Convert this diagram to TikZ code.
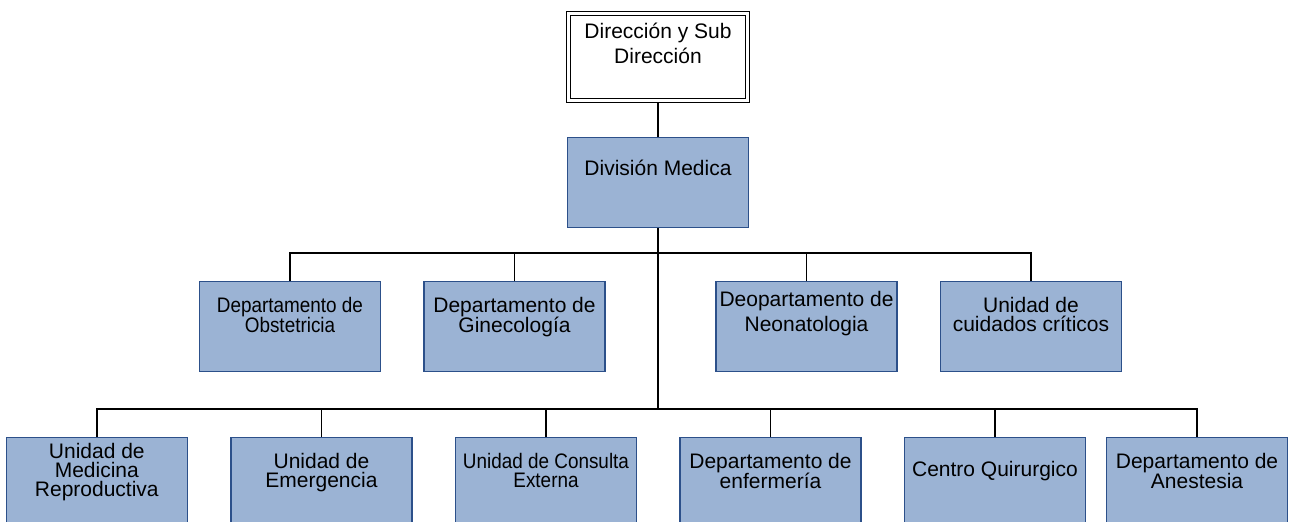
\documentclass[tikz,border=0pt]{standalone}
\usepackage{fontspec}
\setmainfont{Liberation Sans}
\newfontfamily\narrowsans[FakeStretch=0.9]{Liberation Sans}
\definecolor{boxfill}{RGB}{155,179,212}
\definecolor{boxline}{RGB}{44,80,138}
\newcommand\boxtext[1]{\parbox[t]{220pt}{\centering #1}}
\tikzset{
  unit/.style={draw=boxline, line width=1.4pt, fill=boxfill, rectangle,
    minimum width=181pt, minimum height=90pt, inner sep=0pt, anchor=north},
  lbl/.style={anchor=base, inner sep=0pt, font=\fontsize{21}{19}\selectfont},
  narrow/.style={font=\narrowsans\fontsize{21}{19}\selectfont},
  airy/.style={font=\fontsize{21}{25}\selectfont},
  link/.style={draw=black, line width=1.4pt},
  trunk/.style={draw=black, line width=2.4pt},
  bus/.style={draw=black, line width=1.8pt},
}
\begin{document}
\begin{tikzpicture}[x=1pt, y=-1pt]
\useasboundingbox (0,0) rectangle (1293,522);
\clip (0,0) rectangle (1293,522);
\fill[white] (0,0) rectangle (1293,522);

% top management box with double frame
\node[draw=black, line width=1.3pt, rectangle, minimum width=183pt, minimum height=91pt,
      inner sep=0pt, anchor=north] (dir) at (658,11) {};
\draw[black, line width=1.3pt] ([shift={(4.5pt,-4.5pt)}]dir.north west) rectangle ([shift={(-4.5pt,4.5pt)}]dir.south east);
\node[lbl, airy] at (658,38) {\boxtext{Dirección y Sub\\Dirección}};

% medical division
\node[unit] (div) at (658,137) {};
\node[lbl] at (658,175) {\boxtext{División Medica}};

% first level of departments
\node[unit] (obs) at (290,281) {};
\node[unit] (gin) at (514.5,281) {};
\node[unit] (neo) at (806.5,281) {};
\node[unit] (cui) at (1031,281) {};
\node[lbl, narrow] at (290,312) {\boxtext{Departamento de\\Obstetricia}};
\node[lbl] at (514.5,312) {\boxtext{Departamento de\\Ginecología}};
\node[lbl, airy] at (806.5,306.5) {\boxtext{Deopartamento de\\Neonatologia}};
\node[lbl] at (1031,312) {\boxtext{Unidad de\\cuidados críticos}};

% second level of units
\node[unit] (rep) at (96.8,437) {};
\node[unit] (eme) at (321.5,437) {};
\node[unit] (con) at (546,437) {};
\node[unit] (enf) at (770.5,437) {};
\node[unit] (qui) at (995,437) {};
\node[unit] (ane) at (1197,437) {};
\node[lbl] at (96.8,458.5) {\boxtext{Unidad de\\Medicina\\Reproductiva}};
\node[lbl] at (321.5,468) {\boxtext{Unidad de\\Emergencia}};
\node[lbl, narrow] at (546,468) {\boxtext{Unidad de Consulta\\Externa}};
\node[lbl] at (770.5,468) {\boxtext{Departamento de\\enfermería}};
\node[lbl] at (995,476) {\boxtext{Centro Quirurgico}};
\node[lbl] at (1197,468) {\boxtext{Departamento de\\Anestesia}};

% junction points of the two horizontal buses
\coordinate (m) at (658,253);
\coordinate (b) at (658,409);

% connectors
\draw[link] (dir.south) -- (div.north);
\draw[trunk] (div.south) -- (b);
\draw[bus] (obs.north) |- (m) -| (cui.north);
\draw[link] (gin.north) -- (gin.north |- m);
\draw[link] (neo.north) -- (neo.north |- m);
\draw[bus] (rep.north) |- (b) -| (ane.north);
\draw[link] (eme.north) -- (eme.north |- b);
\draw[link] (con.north) -- (con.north |- b);
\draw[link] (enf.north) -- (enf.north |- b);
\draw[link] (qui.north) -- (qui.north |- b);
\end{tikzpicture}
\end{document}
